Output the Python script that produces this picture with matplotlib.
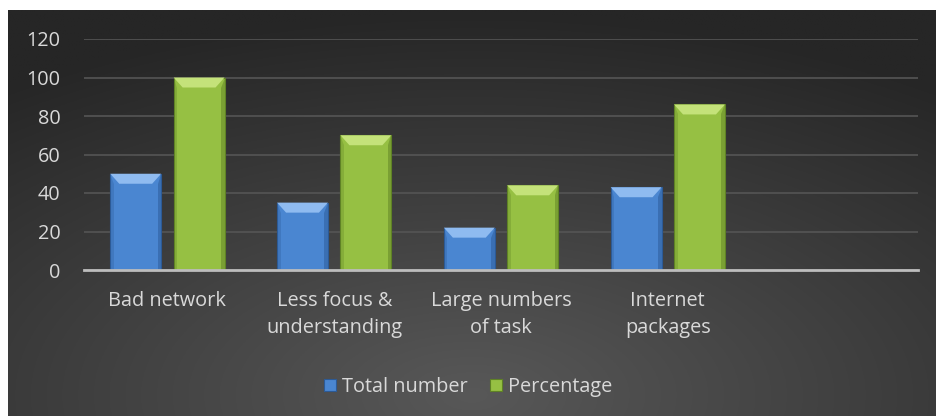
import numpy as np
import matplotlib
matplotlib.use("Agg")
import matplotlib.pyplot as plt
from matplotlib.patches import Polygon

categories = ["Bad network", "Less focus &\nunderstanding", "Large numbers\nof task", "Internet\npackages", ""]
total_number = [50, 35, 22, 43, None]
percentage = [100, 70, 44, 86, None]
y_ticks = [0, 20, 40, 60, 80, 100, 120]

plt.rcParams["font.family"] = ["Open Sans", "DejaVu Sans"]
text_color = "#D9D9D9"
fs = 14.3

fig = plt.figure(figsize=(9.36, 4.16), dpi=100)
fig.patch.set_facecolor("white")

# radial gradient backdrop
bg = fig.add_axes([8 / 936, 0, 1 - 8 / 936, 406 / 416], zorder=0)
gy, gx = np.mgrid[0:1:300j, 0:1:600j]
dist = np.sqrt(((gx - 0.5) * 1.0) ** 2 + ((gy - 0.05) * 0.9) ** 2)
dist = np.clip(dist / 0.85, 0, 1)
c_in = np.array([0x58, 0x58, 0x58]) / 255
c_out = np.array([0x26, 0x26, 0x26]) / 255
img = c_in[None, None, :] * (1 - dist[..., None]) + c_out[None, None, :] * dist[..., None]
bg.imshow(img, origin="lower", extent=[0, 1, 0, 1], aspect="auto")
bg.set_axis_off()

ax = fig.add_axes([84 / 936, 146 / 416, 834 / 936, 231 / 416], zorder=1)
ax.patch.set_alpha(0)

x = np.arange(len(categories))
width = 0.305
offset = 0.19

series = [
    (total_number, -offset, "#4A86D1", "#8FBBF0", "#2C5A96", "Total number"),
    (percentage, offset, "#96C043", "#C4E27A", "#5F8225", "Percentage"),
]

ylim = 120
bev_y = 10 * ylim / 231
bev_x = 9 * len(categories) / 834

for vals, off, face, light, dark, label in series:
    xs = [xi + off for xi, v in zip(x, vals) if v is not None]
    hs = [v for v in vals if v is not None]
    bars = ax.bar(xs, hs, width=width, color=face, edgecolor=dark, linewidth=0.8,
                  label=label, zorder=3)
    for b in bars:
        x0, x1 = b.get_x(), b.get_x() + b.get_width()
        h = b.get_height()
        # top bevel
        ax.add_patch(Polygon([(x0, h), (x1, h), (x1 - bev_x, h - bev_y), (x0 + bev_x, h - bev_y)],
                             closed=True, facecolor=light, edgecolor="none", zorder=4))
        # side shading
        ax.add_patch(Polygon([(x1, h), (x1, 0), (x1 - bev_x * 0.4, 0), (x1 - bev_x * 0.4, h - bev_y)],
                             closed=True, facecolor=dark, alpha=0.5, edgecolor="none", zorder=4))
        ax.add_patch(Polygon([(x0, h), (x0, 0), (x0 + bev_x * 0.4, 0), (x0 + bev_x * 0.4, h - bev_y)],
                             closed=True, facecolor=dark, alpha=0.3, edgecolor="none", zorder=4))

ax.set_xlim(-0.5, len(categories) - 0.5)
ax.set_ylim(0, ylim)
ax.set_yticks(y_ticks)
ax.set_xticks(x)
ax.set_xticklabels(categories, color=text_color, fontsize=fs, linespacing=1.5)
ax.tick_params(axis="y", colors=text_color, labelsize=fs, length=0, pad=17)
ax.tick_params(axis="x", length=0, pad=15)
for t in ax.get_yticklabels():
    t.set_color(text_color)
ax.grid(axis="y", color="#555555", linewidth=1.2, zorder=0)
ax.set_axisbelow(True)
for s in ["top", "right", "left"]:
    ax.spines[s].set_visible(False)
ax.spines["bottom"].set_color("#BDBDBD")
ax.spines["bottom"].set_linewidth(2)
ax.spines["bottom"].set_zorder(5)

leg = fig.legend(loc="center", bbox_to_anchor=(0.5, 29 / 416), ncol=2, frameon=False,
                 fontsize=fs, handlelength=0.6, handleheight=0.6, handletextpad=0.3,
                 columnspacing=1.1)
for t in leg.get_texts():
    t.set_color(text_color)

fig.savefig("out.png", dpi=100)
